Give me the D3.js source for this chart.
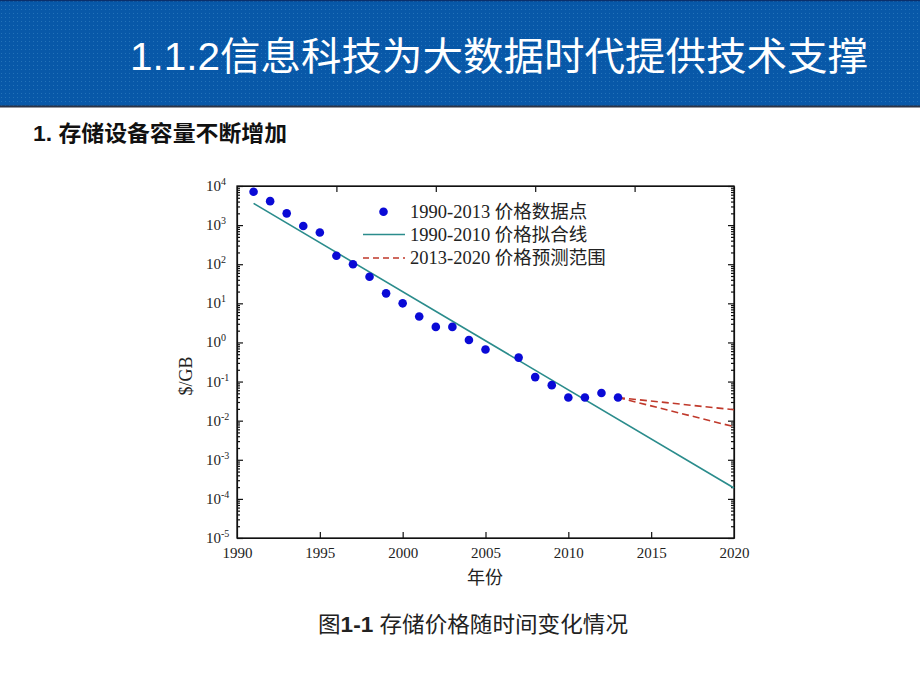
<!DOCTYPE html>
<html lang="zh">
<head>
<meta charset="UTF-8">
<title>存储价格随时间变化情况</title>
<style>
body{
    margin: 0;
    background: #fff;
}
svg{ display: block; }

.tick-label{ font: 15px "Liberation Serif", "Times New Roman", serif; fill: #222; }
.legend text{ font: 18.5px "Liberation Serif", "Noto Sans CJK SC", serif; fill: #222; }
.axis path, .axis line{ stroke: #111; stroke-width: 1.2px; }
</style>
</head>
<body>
<script src="https://cdnjs.cloudflare.com/ajax/libs/d3/7.8.5/d3.min.js"></script>
<script>
// price data points (year, $/GB)
var years = [1991, 1992, 1993, 1994, 1995, 1996, 1997, 1998, 1999, 2000, 2001,
             2002, 2003, 2004, 2005, 2007, 2008, 2009, 2010, 2011, 2012, 2013];
var prices = [7100, 4100, 2000, 950, 650, 165, 100, 48, 18, 10, 4.6,
              2.5, 2.5, 1.15, 0.66, 0.41, 0.13, 0.081, 0.039, 0.039, 0.051, 0.039];

// fitted line end points
var fitYears = [1991, 2020];
var fitPrices = [3600, 0.00019];

// forecast range 2013-2020
var forecastYears = [2013, 2020];
var forecastHigh = [0.039, 0.019];
var forecastLow = [0.039, 0.007];

// axes
var xTicks = [1990, 1995, 2000, 2005, 2010, 2015, 2020];
var xTopTicks = [1996, 2002, 2008, 2014];
var yExponents = [4, 3, 2, 1, 0, -1, -2, -3, -4, -5];

var legendLabels = ["1990-2013 价格数据点", "1990-2010 价格拟合线", "2013-2020 价格预测范围"];

var width = 920, height = 690;

var svg = d3.select("body").append("svg")
  .attr("width", width)
  .attr("height", height);

// ---------------- header band ----------------
var defs = svg.append("defs");
var pat = defs.append("pattern")
  .attr("id", "dots")
  .attr("width", 4).attr("height", 4)
  .attr("patternUnits", "userSpaceOnUse");
pat.append("rect").attr("width", 4).attr("height", 4).attr("fill", "#0858a8");
pat.append("rect").attr("x", 1).attr("y", 1).attr("width", 1).attr("height", 1)
  .attr("fill", "#3a86c4").attr("opacity", 0.55);

svg.append("rect")
  .attr("x", 0).attr("y", 0)
  .attr("width", width).attr("height", 106)
  .attr("fill", "url(#dots)");
svg.append("line")
  .attr("x1", 0).attr("x2", width).attr("y1", 106.5).attr("y2", 106.5)
  .attr("stroke", "#2a3346").attr("stroke-width", 2);
svg.append("line")
  .attr("x1", 0).attr("x2", width).attr("y1", 0.5).attr("y2", 0.5)
  .attr("stroke", "#0b2f6a").attr("stroke-width", 1.5);

svg.append("text")
  .attr("x", 130).attr("y", 70)
  .attr("textLength", 738)
  .attr("lengthAdjust", "spacingAndGlyphs")
  .style("font", "39px 'Liberation Sans', 'Noto Sans CJK SC', sans-serif")
  .attr("fill", "#fff")
  .text("1.1.2信息科技为大数据时代提供技术支撑");

svg.append("text")
  .attr("x", 33).attr("y", 141)
  .attr("textLength", 254)
  .attr("lengthAdjust", "spacingAndGlyphs")
  .style("font", "bold 22px 'Liberation Sans', 'Noto Sans CJK SC', sans-serif")
  .attr("fill", "#111")
  .text("1. 存储设备容量不断增加");

// ---------------- chart ----------------
var x = d3.scaleLinear().domain([1990, 2020]).range([237, 734]);
var y = d3.scaleLog().domain([1e-5, 1e4]).range([538, 186]);

var majors = yExponents.map(function (e) { return Math.pow(10, e); });
var minors = [];
yExponents.forEach(function (e) {
  if (e === 4) return;
  for (var k = 2; k <= 9; k++) minors.push(k * Math.pow(10, e));
});

// bottom axis (ticks inward)
svg.append("g")
  .attr("class", "axis")
  .attr("transform", "translate(0,538)")
  .call(d3.axisBottom(x).tickValues(xTicks).tickSize(-6).tickSizeOuter(0)
        .tickPadding(9).tickFormat(d3.format("d")))
  .call(function (g) {
    g.selectAll("text").attr("class", "tick-label").attr("fill", null);
    g.selectAll(".tick").filter(function (d) { return d === 1990 || d === 2020; })
      .select("line").remove();
  });

// top axis, no labels
svg.append("g")
  .attr("class", "axis")
  .attr("transform", "translate(0,186)")
  .call(d3.axisTop(x).tickValues(xTopTicks).tickSize(-6).tickSizeOuter(0).tickFormat(""));

// left & right axes, major + minor ticks
[["left", 237, d3.axisLeft], ["right", 734, d3.axisRight]].forEach(function (a) {
  svg.append("g")
    .attr("class", "axis")
    .attr("transform", "translate(" + a[1] + ",0)")
    .call(a[2](y).tickValues(majors).tickSize(-6).tickSizeOuter(0).tickFormat(""));
  svg.append("g")
    .attr("class", "axis minor")
    .attr("transform", "translate(" + a[1] + ",0)")
    .call(a[2](y).tickValues(minors).tickSize(-3).tickSizeOuter(0).tickFormat(""))
    .call(function (g) { g.select(".domain").remove(); });
});

// y tick labels 10^n
var ylab = svg.append("g").selectAll("text")
  .data(yExponents)
  .enter().append("text")
  .attr("class", "tick-label")
  .attr("x", 206)
  .attr("y", function (d) { return y(Math.pow(10, d)) + 5; });
ylab.append("tspan").text("10");
ylab.append("tspan")
  .attr("dy", -6)
  .style("font-size", "10px")
  .text(function (d) { return d; });

// frame
svg.append("rect")
  .attr("x", 237).attr("y", 186)
  .attr("width", 734 - 237).attr("height", 538 - 186)
  .attr("fill", "none")
  .attr("stroke", "#111")
  .attr("stroke-width", 1.3);

var line = d3.line()
  .x(function (d) { return x(d[0]); })
  .y(function (d) { return y(d[1]); });

// fitted line
svg.append("path")
  .datum(d3.zip(fitYears, fitPrices))
  .attr("d", line)
  .attr("fill", "none")
  .attr("stroke", "#2b8c8c")
  .attr("stroke-width", 1.6);

// forecast range
[forecastHigh, forecastLow].forEach(function (s) {
  svg.append("path")
    .datum(d3.zip(forecastYears, s))
    .attr("d", line)
    .attr("fill", "none")
    .attr("stroke", "#c0392b")
    .attr("stroke-width", 1.6)
    .attr("stroke-dasharray", "7,4");
});

// data points
svg.append("g").selectAll("circle")
  .data(d3.zip(years, prices))
  .enter().append("circle")
  .attr("cx", function (d) { return x(d[0]); })
  .attr("cy", function (d) { return y(d[1]); })
  .attr("r", 4.3)
  .attr("fill", "#0a0ad6");

// legend
var legend = svg.append("g").attr("class", "legend");
var rowY = [218, 240.5, 263.5];
legend.append("circle")
  .attr("cx", 383.5).attr("cy", rowY[0] - 6.3).attr("r", 4.3)
  .attr("fill", "#0a0ad6");
legend.append("line")
  .attr("x1", 363).attr("x2", 405).attr("y1", rowY[1] - 6).attr("y2", rowY[1] - 6)
  .attr("stroke", "#2b8c8c").attr("stroke-width", 1.6);
legend.append("line")
  .attr("x1", 363).attr("x2", 405).attr("y1", rowY[2] - 5.5).attr("y2", rowY[2] - 5.5)
  .attr("stroke", "#c0392b").attr("stroke-width", 1.6)
  .attr("stroke-dasharray", "6,4");
legend.selectAll("text")
  .data(legendLabels)
  .enter().append("text")
  .attr("x", 410)
  .attr("y", function (d, i) { return rowY[i]; })
  .text(function (d) { return d; });

// axis titles
svg.append("text")
  .attr("transform", "translate(192,376) rotate(-90)")
  .attr("text-anchor", "middle")
  .style("font", "18px 'Liberation Serif', serif")
  .attr("fill", "#222")
  .text("$/GB");

svg.append("text")
  .attr("x", 485).attr("y", 584)
  .attr("text-anchor", "middle")
  .style("font", "18px 'Noto Sans CJK SC', sans-serif")
  .attr("fill", "#222")
  .text("年份");

// caption
var cap = svg.append("text")
  .attr("x", 318).attr("y", 632)
  .attr("textLength", 310)
  .attr("lengthAdjust", "spacingAndGlyphs")
  .style("font", "22px 'Liberation Sans', 'Noto Sans CJK SC', sans-serif")
  .attr("fill", "#222");
cap.append("tspan").text("图");
cap.append("tspan").style("font-weight", "bold").text("1-1");
cap.append("tspan").text(" 存储价格随时间变化情况");
</script>
</body>
</html>
